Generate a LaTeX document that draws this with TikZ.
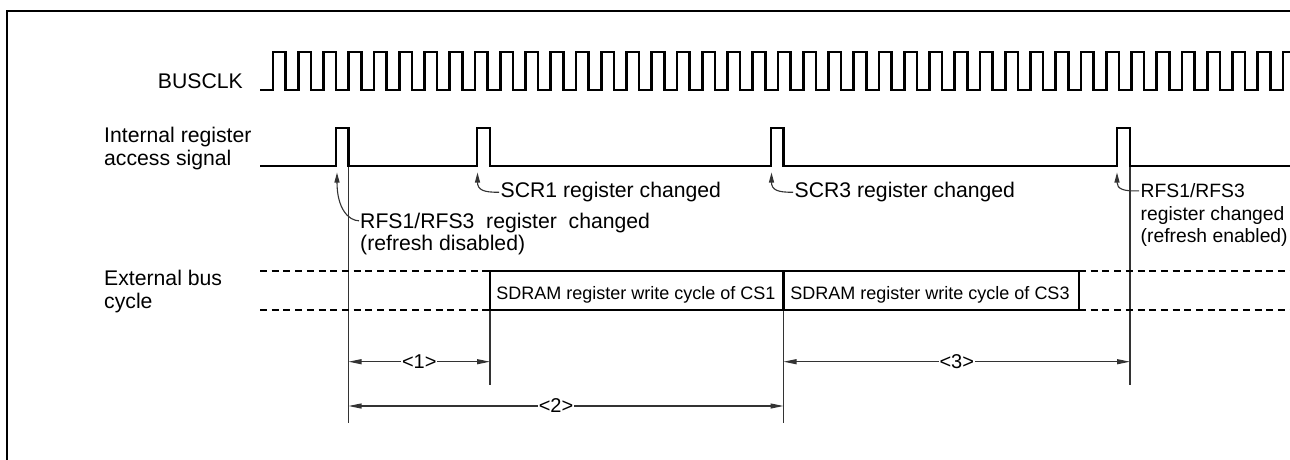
\documentclass[tikz,border=0pt]{standalone}
\usepackage{fontspec}
\setmainfont{Liberation Sans}
\usetikzlibrary{arrows.meta}
\begin{document}
\begin{tikzpicture}[x=1pt,y=-1pt,
  sig/.style={line width=2.6pt, line join=miter},
  thinln/.style={line width=1.1pt, draw=black!80},
  dimln/.style={thinln, {Triangle[length=13pt,width=5pt]}-{Triangle[length=13pt,width=5pt]}},
  annln/.style={thinln, -{Triangle[length=10pt,width=5pt]}},
  lbl/.style={inner sep=0pt, font=\fontsize{21.2}{24}\selectfont},
  lbls/.style={inner sep=0pt, font=\fontsize{19.3}{22}\selectfont},
  boxtxt/.style={inner sep=0pt, font=\fontsize{18}{20}\selectfont},
  dashln/.style={line width=2.6pt, dash pattern=on 7pt off 4.7pt},
  dimlbl/.style={fill=white, inner sep=1pt, font=\fontsize{20}{22}\selectfont}]
\useasboundingbox (0,0) rectangle (1290,459);
\clip (0,0) rectangle (1290,459);
\fill[white] (0,0) rectangle (1290,459);
% frame
\draw[line width=2.8pt] (7,470) -- (7,11) -- (1300,11);

% coordinates
\coordinate (p1) at (337,172.5);
\coordinate (p2) at (477.5,172.5);
\coordinate (p3) at (771.5,172.5);
\coordinate (p4) at (1117,172.5);
\coordinate (v1t) at (348.5,166);
\coordinate (v1b) at (348.5,423);
\coordinate (v2t) at (490,310);
\coordinate (v2b) at (490,385);
\coordinate (v3t) at (783.5,310);
\coordinate (v3b) at (783.5,423);
\coordinate (v4t) at (1130,166);
\coordinate (v4b) at (1130,385);
\coordinate (d1a) at (348.5,361.7);
\coordinate (d1b) at (490,361.7);
\coordinate (d2a) at (348.5,406);
\coordinate (d2b) at (783.5,406);
\coordinate (d3a) at (783.5,361.7);
\coordinate (d3b) at (1130,361.7);

% thin vertical reference lines
\draw[thinln] (v1t) -- (v1b);
\draw[thinln] (v2t) -- (v2b);
\draw[thinln] (v3t) -- (v3b);
\draw[thinln] (v4t) -- (v4b);

% BUSCLK
\draw[sig] (260,90) -- (273,90) \foreach \k in {0,...,40} { -- ++(0,-38) -- ++(12.625,0) -- ++(0,38) -- ++(12.625,0) };

% internal register access signal
\draw[sig] (260,166) -- (336,166) -- (336,128) -- (348.5,128) -- (348.5,166)
  -- (477,166) -- (477,128) -- (490,128) -- (490,166)
  -- (771,166) -- (771,128) -- (783.5,128) -- (783.5,166)
  -- (1117,166) -- (1117,128) -- (1130,128) -- (1130,166) -- (1300,166);

% external bus cycle
\draw[dashln] (260,271) -- (490,271);
\draw[dashln] (260,310) -- (490,310);
\draw[dashln] (1079,271) -- (1300,271);
\draw[dashln] (1079,310) -- (1300,310);
\draw[line width=2.8pt] (490,271) rectangle (1079,310);
\draw[line width=2.8pt] (783.5,271) -- (783.5,310);
\node[boxtxt, anchor=base] (cyc1) at (636,299.5) {SDRAM register write cycle of CS1};
\node[boxtxt, anchor=base] (cyc3) at (930,299.5) {SDRAM register write cycle of CS3};

% labels
\node[lbl, anchor=base east] (busclk) at (243,88.3) {BUSCLK};
\node[lbl, anchor=base west] (int1) at (104,142.5) {Internal register};
\node[lbl, anchor=base west] (int2) at (104,165) {access signal};
\node[lbl, anchor=base west] (ext1) at (104,285) {External bus};
\node[lbl, anchor=base west] (ext2) at (104,308) {cycle};

% annotations
\node[lbl, anchor=base west] (scr1) at (500.5,197.7) {SCR1 register changed};
\node[lbl, anchor=base west] (scr3) at (794.5,197.7) {SCR3 register changed};
\node[lbl, anchor=base west] (rfa1) at (360,228.3) {RFS1/RFS3\ \ register\ \ changed};
\node[lbl, anchor=base west] (rfa2) at (360,250) {(refresh disabled)};
\node[lbls, anchor=base west] (rfb1) at (1140.5,197.7) {RFS1/RFS3};
\node[lbls, anchor=base west] (rfb2) at (1140.5,220) {register changed};
\node[lbls, anchor=base west] (rfb3) at (1140.5,242.7) {(refresh enabled)};

\draw[annln] ([shift={(-1,-2)}]rfa1.west) .. controls (348,220.5) and (337,208) .. (p1);
\draw[annln] ([xshift=-1.5pt]scr1.west) .. controls (484,192.5) and (477.5,190) .. (p2);
\draw[annln] ([xshift=-1.5pt]scr3.west) .. controls (778,192.5) and (771.5,190) .. (p3);
\draw[annln] ([xshift=-1.5pt]rfb1.west) .. controls (1123.5,191.5) and (1117,189) .. (p4);

% dimensions
\draw[dimln] (d1a) -- (d1b) node[dimlbl, pos=0.5] (n1) {<1>};
\draw[dimln] (d2a) -- (d2b) node[dimlbl, pos=0.477] (n2) {<2>};
\draw[dimln] (d3a) -- (d3b) node[dimlbl, pos=0.5] (n3) {<3>};
\end{tikzpicture}
\end{document}
